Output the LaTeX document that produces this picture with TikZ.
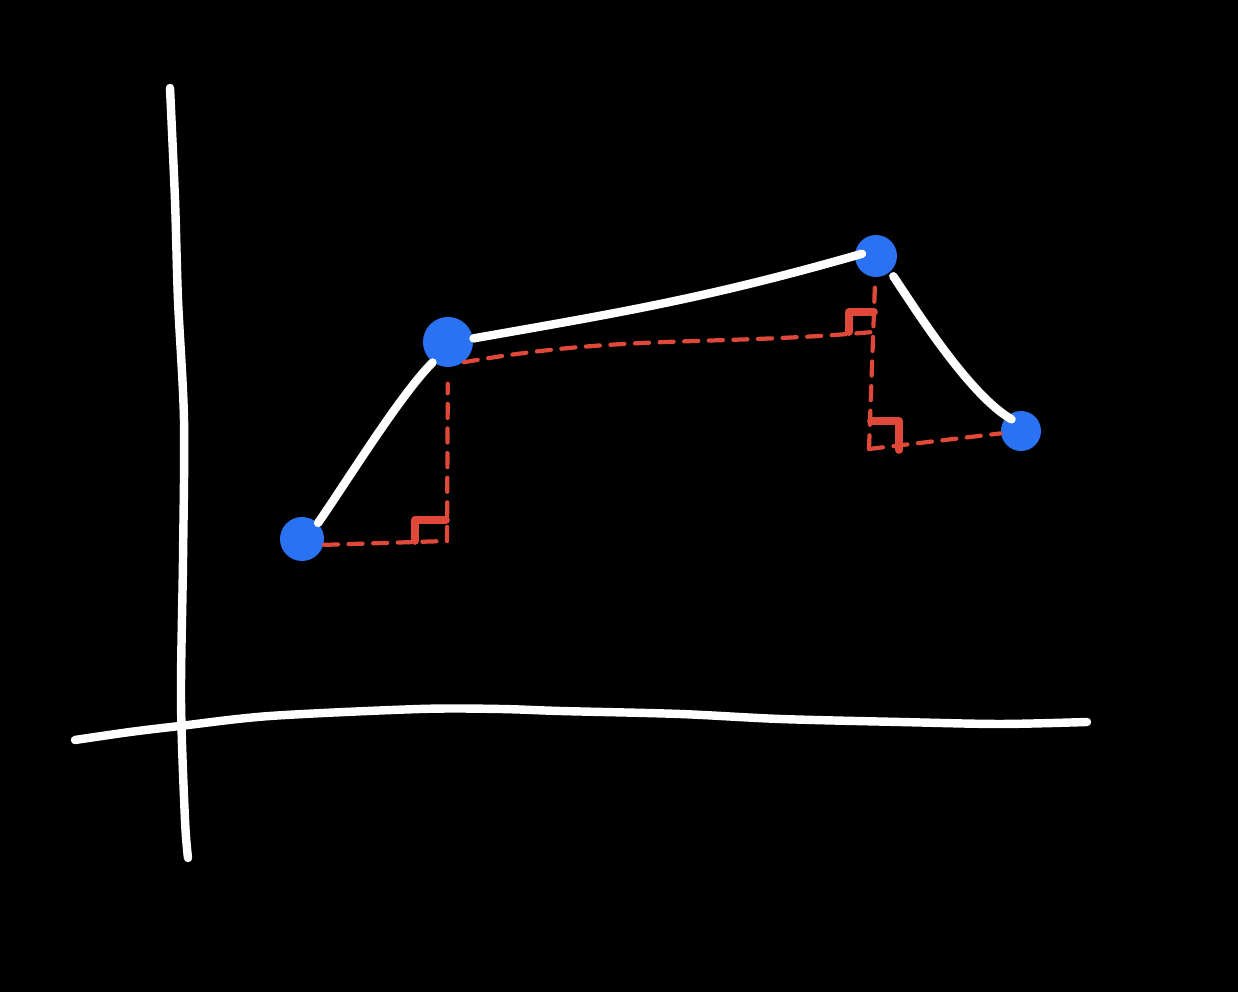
\documentclass[tikz,border=0pt]{standalone}
\usetikzlibrary{calc}
\definecolor{dotblue}{HTML}{2A72F2}
\definecolor{markred}{HTML}{E0483A}

\begin{document}
\begin{tikzpicture}[
    x=0.01cm, y=-0.01cm,
    dot/.style={
        circle,
        fill=dotblue,
        inner sep=0pt,
        minimum size=#1
    },
    stroke/.style={white, line width=2.4pt, line cap=round},
    proj/.style={markred, line width=1.2pt, dash pattern=on 4pt off 3pt, line cap=round},
    rmark/.style={markred, line width=2.2pt, line cap=round, line join=round}
]

\fill[black] (0, 0) rectangle (1238, 992);
\useasboundingbox (0, 0) rectangle (1238, 992);

% axes
\draw[stroke] plot[smooth] coordinates {(170,88) (175,200) (178,300) (184,420) (183,560) (181,700) (185,820) (188,858)};
\draw[stroke] plot[smooth] coordinates {(75,740) (130,732) (180,726) (270,716) (420,709) (500,709) (560,711) (680,714) (780,719) (900,722) (1000,724) (1087,722)};

% points
\node[dot=0.44cm] (p1) at (302, 539) {};
\node[dot=0.50cm] (p2) at (448, 342) {};
\node[dot=0.42cm] (p3) at (876, 256) {};
\node[dot=0.40cm] (p4) at (1021, 431) {};

\coordinate (c1) at (447, 541);
\coordinate (c2) at (873, 332);
\coordinate (c3) at (869, 449);

% projections
\draw[proj] (p1.-15) -- (c1);
\draw[proj, shorten >=0.16cm] (c1) -- (p2);
\draw[proj] (p2.-52) to[out=10, in=185] (c2);
\draw[proj, shorten <=0.1cm] (p3) -- (c3);
\draw[proj] (c3) -- (p4);

\draw[rmark] ($(c1)+(-32,0)$) -- ++(0,-21) -- ++(31,0);
\draw[rmark] ($(c2)+(-24,0)$) -- ++(0,-20) -- ++(25,0);
\draw[rmark] ($(c3)+(2,-28)$) -- ++(28,0) -- ++(0,29);

% segments
\draw[stroke] (p1.45) to[out=55, in=225, looseness=0.6] (p2.233);
\draw[stroke, shorten >=-0.08cm] (p2.8) to[out=10, in=196] (p3.west);
\draw[stroke, shorten <=0.05cm, shorten >=-0.06cm] (p3.-48) to[out=-56, in=150, looseness=0.6] (p4.135);

\end{tikzpicture}
\end{document}
